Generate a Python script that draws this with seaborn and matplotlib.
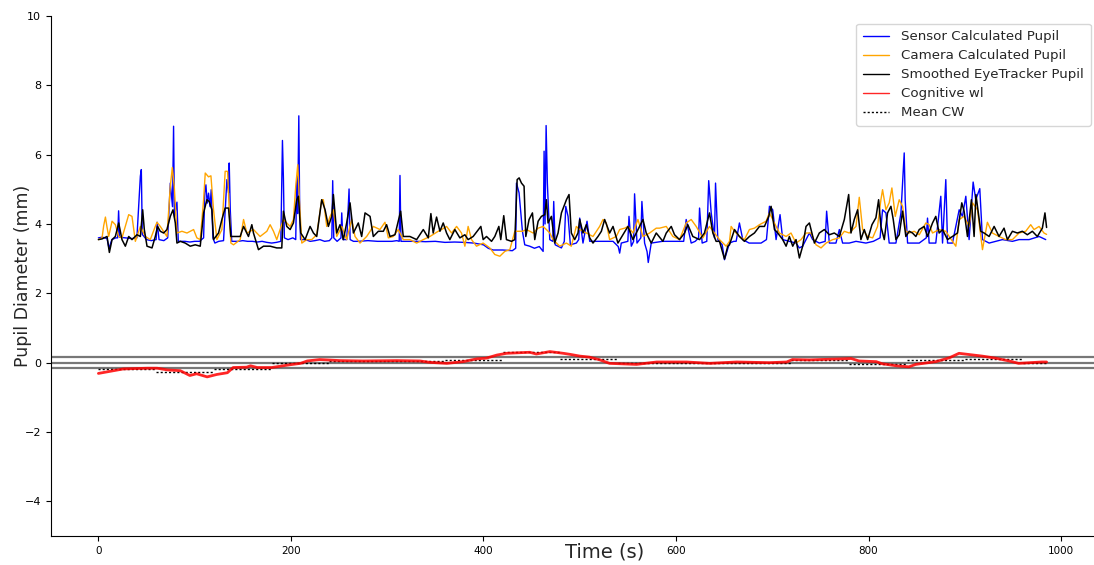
import numpy as np
import matplotlib
matplotlib.use("Agg")
import matplotlib.pyplot as plt
import seaborn as sns

# Pupil diameter readings (time in s, diameter in mm)
sensor_pts = [
    (0, 3.6), (4, 3.62), (9, 3.58), (11, 3.3), (14, 3.55), (18, 3.6), (20, 3.6), (21, 4.38), (22, 3.62),
    (28, 3.6), (35, 3.58), (40, 3.6), (43.6, 5.38), (44.6, 5.57), (45.6, 3.7), (50, 3.55), (55, 3.52),
    (60, 3.55), (61, 4.05), (63, 3.55), (68, 3.52), (72, 3.6), (74.7, 5.18), (77, 4.5), (78.1, 6.82),
    (79, 4.2), (81.6, 4.63), (83, 3.5), (90, 3.5), (95, 3.48), (100, 3.5), (105, 3.5), (109.3, 3.6),
    (110.5, 4.9), (111.7, 5.13), (113, 4.6), (114.4, 4.89), (116, 4.5), (117.2, 4.99), (119, 3.6),
    (121, 3.45), (125, 3.5), (130, 3.52), (133.5, 5.28), (135.2, 4.9), (135.9, 5.76), (137, 4.41),
    (138.5, 3.5), (145, 3.5), (150, 3.52), (155, 3.5), (160, 3.5), (165, 3.48), (170, 3.5), (175, 3.47),
    (180, 3.45), (185, 3.47), (189.5, 3.5), (191.2, 6.41), (192.2, 5.32), (193.2, 3.6), (197, 3.55),
    (202, 3.6), (205, 3.55), (206.1, 5.38), (207, 4.3), (208.2, 7.12), (209, 4.7), (210, 3.55),
    (215, 3.55), (220, 3.5), (225, 3.52), (230, 3.55), (235, 3.5), (240, 3.52), (242.5, 3.6),
    (243.4, 5.25), (244.5, 3.6), (248, 3.5), (252, 3.6), (252.8, 4.32), (254, 3.55), (258, 3.55),
    (260.4, 5.01), (261.5, 3.55), (265, 3.5), (270, 3.5), (280, 3.52), (290, 3.5), (300, 3.5),
    (305, 3.5), (310, 3.52), (312.5, 3.5), (313.3, 5.40), (314.3, 3.5), (320, 3.5), (330, 3.5),
    (340, 3.49), (350, 3.5), (360, 3.47), (370, 3.48), (380, 3.47), (390, 3.45), (400, 3.4),
    (405, 3.3), (410, 3.25), (420, 3.25), (430, 3.23), (433.5, 3.3), (434.3, 5.18), (437, 4.9),
    (440.5, 3.79), (442.9, 3.4), (448, 3.36), (453, 3.3), (458, 3.35), (462, 3.21), (463, 6.1),
    (464, 4.0), (465.1, 6.84), (466.4, 5.18), (468.9, 3.55), (472, 3.5), (473, 4.65), (474.5, 3.4),
    (481, 3.31), (484, 3.5), (485.5, 4.51), (487.9, 4.22), (490.3, 3.4), (496.5, 3.45), (499, 3.55),
    (500, 4.17), (503.4, 3.45), (507.6, 4.08), (510.4, 3.5), (517, 3.5), (525, 3.5), (534.6, 3.5),
    (540, 3.35), (541.5, 3.16), (543.2, 3.45), (550, 3.5), (551.2, 4.22), (553.6, 3.36), (556, 3.5),
    (557, 4.87), (559.5, 3.45), (563.5, 3.6), (564.6, 4.65), (567.4, 3.45), (570, 3.2), (571.2, 2.89),
    (574.3, 3.45), (586, 3.5), (600, 3.5), (608, 3.5), (610.6, 4.13), (615.8, 3.45), (620, 3.5),
    (623.5, 3.6), (624.5, 4.46), (627.2, 3.45), (632, 3.5), (634, 5.25), (636.6, 4.32), (640, 3.6),
    (641.1, 5.18), (643.5, 3.55), (648, 3.4), (650.4, 2.97), (655.6, 3.45), (660, 3.5), (662.5, 3.5),
    (665.9, 4.03), (669.4, 3.55), (676, 3.45), (683, 3.45), (688.4, 3.45), (694, 3.55), (697.1, 4.51),
    (700.5, 4.41), (704, 3.55), (708.1, 4.27), (710.9, 3.55), (717.8, 3.5), (724.7, 3.45), (728.2, 3.31),
    (731.6, 3.36), (735.1, 3.55), (738.6, 3.74), (742, 3.55), (748.9, 3.45), (755, 3.5), (756.5, 4.37),
    (759.3, 3.45), (766.2, 3.45), (769.7, 3.84), (773.1, 3.45), (780, 3.45), (787, 3.5), (797.3, 3.45),
    (805, 3.5), (812, 3.6), (814.6, 4.41), (818.1, 4.32), (821.5, 3.45), (828.5, 3.45), (833.7, 4.32),
    (837.1, 6.05), (838.1, 4.7), (840.6, 3.45), (852.7, 3.45), (860, 3.6), (861.3, 4.17), (863, 3.45),
    (869.9, 3.45), (875.1, 4.8), (876.9, 3.45), (880.3, 5.28), (882.1, 3.45), (887.2, 3.45),
    (894.2, 4.41), (897.6, 4.22), (901.1, 4.8), (904.5, 3.55), (908.7, 5.21), (911.4, 4.7),
    (915.6, 5.02), (918.4, 3.55), (925.3, 3.45), (932.2, 3.5), (939.1, 3.55), (949.5, 3.5),
    (956.4, 3.55), (966.8, 3.55), (977.2, 3.64), (984.1, 3.55),
]

camera_pts = [
    (0, 3.55), (3.8, 3.6), (5.5, 3.95), (7.3, 4.2), (9, 3.9), (10.7, 3.64), (14.2, 4.08), (17.6, 3.98),
    (21.1, 3.64), (24.5, 3.6), (28, 3.93), (31.5, 4.27), (34.9, 4.22), (38.4, 3.5), (43.6, 3.93),
    (48.8, 3.64), (53.9, 3.55), (59.1, 3.93), (60.9, 4.05), (64.3, 3.93), (71.2, 3.64), (74.7, 5.09),
    (76.8, 5.63), (78.8, 5.09), (81.6, 3.74), (86.8, 3.79), (92, 3.74), (98.9, 3.84), (102.3, 3.6),
    (105.8, 3.55), (109.3, 4.7), (111, 5.47), (114.4, 5.36), (116.9, 5.39), (119.6, 4.41), (123.1, 3.55),
    (128.3, 3.84), (131.7, 5.52), (134.2, 5.52), (135.9, 4.41), (137.6, 3.45), (140.4, 3.40),
    (147.3, 3.55), (150.8, 4.13), (154.2, 3.74), (161.1, 3.84), (168, 3.64), (175, 3.79), (178.4, 3.98),
    (181.9, 3.79), (185.3, 3.55), (192.2, 4.13), (195.7, 4.03), (199.2, 3.93), (202.6, 4.13), (205, 5.09),
    (207.1, 5.71), (208.8, 4.70), (211.3, 3.45), (216.5, 3.55), (221.6, 3.55), (226.8, 3.69), (232, 4.70),
    (233.7, 4.70), (237.2, 3.93), (240.7, 4.22), (244.1, 4.41), (247.6, 3.64), (252.8, 3.93),
    (257.9, 3.55), (263.1, 4.13), (266.6, 3.64), (271.8, 3.45), (278.7, 3.64), (285.6, 3.93),
    (292.5, 3.84), (297.7, 4.05), (301.2, 3.6), (306.3, 3.64), (311.5, 3.84), (316.7, 3.55),
    (323.6, 3.55), (330.6, 3.45), (337.5, 3.55), (344.4, 3.64), (353, 3.79), (356.5, 3.84),
    (361.7, 3.93), (366.9, 3.74), (372.1, 3.93), (377.2, 3.74), (380.7, 3.36), (384.1, 3.93),
    (387.6, 3.55), (392.8, 3.36), (399.7, 3.45), (406.6, 3.31), (411.8, 3.12), (417, 3.07),
    (422.2, 3.21), (427.4, 3.26), (432.6, 3.79), (436, 3.79), (440.5, 3.79), (444.7, 3.84),
    (451.6, 3.74), (456.8, 3.88), (461.9, 3.93), (465.4, 3.84), (468.9, 3.74), (472.3, 3.55),
    (479.2, 3.36), (486.2, 3.45), (491.3, 3.36), (496.5, 3.93), (500, 3.84), (506.9, 3.74),
    (513.8, 3.64), (520.7, 3.93), (524.2, 4.13), (527.6, 4.03), (531.1, 3.55), (538, 3.64),
    (541.5, 3.84), (546.7, 3.88), (550.1, 3.93), (555.3, 3.74), (560.5, 4.13), (565.7, 3.64),
    (572.6, 3.74), (579.5, 3.88), (583, 3.88), (589.9, 3.93), (596.8, 3.64), (603.7, 3.55),
    (610.6, 4.03), (615.8, 4.13), (621, 3.93), (627.9, 3.60), (634.8, 3.93), (640, 3.74),
    (645.2, 3.55), (652.1, 3.36), (655.6, 3.5), (657.3, 3.93), (660.8, 3.79), (665.9, 3.64),
    (671.1, 3.55), (676.3, 3.84), (681.5, 3.88), (686.7, 3.98), (693.6, 4.08), (697.1, 4.32),
    (700.5, 4.13), (704, 3.93), (707.4, 3.74), (714.4, 3.64), (719.5, 3.74), (724.7, 3.45),
    (729.9, 3.55), (735.1, 3.74), (740.3, 3.74), (745.5, 3.40), (750.7, 3.31), (755.9, 3.45),
    (762.8, 3.55), (769.7, 3.60), (774.9, 3.79), (780, 3.74), (787, 3.93), (790.4, 4.77), (793.9, 3.84),
    (799.1, 3.64), (804.3, 3.60), (809.4, 3.93), (812.9, 4.70), (814.6, 4.99), (818.1, 4.41),
    (821.5, 4.61), (824.3, 5.04), (827.8, 4.22), (831.9, 4.70), (835.4, 4.51), (838.8, 3.79),
    (842.3, 3.74), (847.5, 3.79), (852.7, 3.69), (859.6, 4.03), (863, 3.98), (866.5, 3.74),
    (873.4, 3.84), (880.3, 3.79), (887.2, 3.50), (890.7, 3.36), (894.2, 4.13), (899.3, 4.22),
    (904.5, 3.93), (908, 4.61), (913.2, 4.41), (918.4, 3.26), (923.5, 4.05), (928.7, 3.74),
    (935.6, 3.64), (942.6, 3.55), (949.5, 3.55), (956.4, 3.74), (963.3, 3.79), (968.5, 3.98),
    (972, 3.84), (977.2, 3.93), (982.3, 3.74), (985, 3.7),
]

smoothed_pts = [
    (0, 3.55), (3.8, 3.57), (9, 3.64), (11.4, 3.18), (14.2, 3.55), (17.6, 3.64), (21.1, 4.03),
    (24.5, 3.55), (28, 3.36), (31.5, 3.64), (34.9, 3.55), (40.1, 3.69), (43.6, 3.64), (46, 4.41),
    (47.7, 3.84), (50.5, 3.36), (55.7, 3.31), (59.1, 3.64), (61.5, 3.93), (64.3, 3.79), (67.8, 3.74),
    (71.2, 3.84), (74.7, 4.22), (77.5, 4.41), (79.9, 4.03), (81.6, 3.45), (85.1, 3.50), (90.2, 3.45),
    (95.4, 3.36), (100.6, 3.40), (105.8, 3.36), (109.3, 4.32), (112.7, 4.70), (115.1, 4.65),
    (117.9, 4.41), (119.6, 3.55), (124.8, 3.74), (128.3, 4.13), (131.7, 4.46), (135.2, 4.46),
    (137.6, 3.64), (142.1, 3.64), (147.3, 3.64), (150.8, 3.93), (155.9, 3.64), (159.4, 3.98),
    (161.1, 3.74), (166.3, 3.26), (171.5, 3.36), (178.4, 3.36), (185.3, 3.31), (190.5, 3.31),
    (192.2, 4.37), (195.7, 3.93), (199.2, 3.84), (202.6, 4.03), (206.1, 4.70), (207.8, 4.80),
    (210.2, 3.74), (214.7, 3.55), (219.9, 3.93), (223.4, 3.74), (226.8, 3.64), (232, 4.70),
    (235.5, 4.41), (238.9, 3.93), (242.4, 4.22), (244.1, 4.85), (247.6, 3.74), (251, 3.98),
    (254.5, 3.55), (257.9, 4.03), (261.4, 4.61), (264.9, 3.74), (270, 4.03), (273.5, 3.64),
    (277, 4.32), (282.2, 4.22), (285.6, 3.64), (290.8, 3.79), (296, 3.79), (299.4, 3.98),
    (302.9, 3.64), (308.1, 3.69), (314, 4.37), (316.7, 3.64), (323.6, 3.64), (330.6, 3.55),
    (337.5, 3.84), (342.7, 3.60), (345.4, 4.30), (347.8, 3.74), (351.3, 4.20), (354.8, 3.79),
    (358.2, 4.03), (361.7, 3.74), (365.1, 3.55), (370.3, 3.84), (375.5, 3.60), (380.7, 3.69),
    (384.1, 3.55), (389.3, 3.64), (393.5, 3.79), (397.3, 3.93), (399.7, 3.55), (403.2, 3.64),
    (408.4, 3.50), (411.8, 3.64), (416, 3.93), (418, 3.55), (421.1, 4.24), (423.9, 3.55),
    (429.1, 3.50), (432.6, 3.55), (435, 5.28), (437.1, 5.33), (439.5, 5.18), (442.2, 5.09),
    (444, 3.64), (447.4, 4.13), (450.9, 4.32), (453.3, 3.55), (456.8, 4.08), (460.2, 4.22),
    (463.7, 4.27), (465.4, 4.70), (467.1, 4.03), (470.6, 4.22), (474, 3.45), (477.5, 3.74),
    (481, 4.32), (486.2, 4.70), (488.9, 4.85), (491.3, 3.74), (494.8, 3.55), (498.2, 3.74),
    (500, 4.13), (503.4, 3.74), (506.9, 3.98), (510.4, 3.60), (513.8, 3.45), (519, 3.64),
    (522.5, 3.79), (525.9, 4.13), (531.1, 3.74), (534.6, 3.93), (539.7, 3.45), (544.9, 3.69),
    (550.1, 3.93), (555.3, 3.55), (562.2, 3.93), (565.7, 4.13), (569.1, 3.74), (574.3, 3.45),
    (579.5, 3.74), (586.4, 3.50), (589.9, 3.74), (595.1, 3.93), (598.5, 3.69), (603.7, 3.55),
    (608.9, 3.74), (612.3, 3.98), (617.5, 3.64), (624.5, 3.55), (629.6, 3.74), (634.8, 4.32),
    (638.3, 3.74), (641.7, 3.50), (645.2, 3.50), (650.4, 2.99), (653.8, 3.36), (655.6, 3.40),
    (660.8, 3.84), (665.9, 3.64), (671.1, 3.50), (676.3, 3.64), (681.5, 3.74), (686.7, 3.93),
    (691.9, 3.93), (696.4, 4.22), (698.8, 4.51), (702.3, 3.84), (705.7, 3.74), (710.9, 3.55),
    (714.4, 3.36), (717.8, 3.64), (721.3, 3.36), (724.7, 3.55), (728.2, 3.02), (731.6, 3.36),
    (735.1, 3.93), (738.6, 4.03), (743.8, 3.45), (748.9, 3.74), (754.1, 3.84), (759.3, 3.69),
    (764.5, 3.74), (769.7, 3.64), (774.9, 4.13), (779.4, 4.85), (781.8, 3.74), (785.2, 4.13),
    (788.7, 4.41), (792.1, 3.55), (795.6, 3.84), (799.1, 3.55), (803.6, 3.98), (807.7, 4.18),
    (810.5, 4.70), (812.9, 3.93), (816.4, 3.55), (819.8, 4.32), (823.3, 4.51), (825.7, 4.13),
    (828.5, 3.55), (831.9, 3.69), (835.4, 4.37), (838.8, 3.64), (842.3, 3.79), (845.7, 3.74),
    (849.2, 3.64), (852.7, 3.84), (857.8, 3.93), (861.3, 3.64), (866.5, 4.03), (869.9, 4.22),
    (873.4, 3.74), (876.9, 3.84), (882.1, 3.55), (887.2, 3.64), (892.4, 3.74), (896.9, 4.61),
    (899.3, 4.37), (902.8, 3.64), (906.9, 4.70), (909.7, 3.64), (911.6, 4.85), (916.6, 3.79),
    (920.1, 3.74), (925.3, 3.64), (930.5, 3.93), (935.6, 3.64), (940.8, 3.88), (944.3, 3.55),
    (949.5, 3.79), (954.6, 3.74), (959.8, 3.79), (965, 3.69), (970.2, 3.79), (975.4, 3.64),
    (980.6, 3.88), (983.3, 4.32), (985, 3.9),
]

# Cognitive workload index
cw_t = [0, 26, 51, 61, 72, 85, 95, 102, 113, 123, 134, 140, 154, 158, 165, 180, 199, 210, 217, 230,
        251, 275, 310, 334, 344, 362, 379, 393, 403, 414, 424, 448, 455, 469, 483, 490, 500, 510, 521,
        531, 559, 580, 611, 635, 663, 697, 715, 721, 739, 749, 773, 782, 790, 808, 814, 829, 842, 849,
        870, 884, 894, 918, 932, 946, 956, 980, 985]
cw_val = [-0.31, -0.18, -0.16, -0.16, -0.21, -0.23, -0.37, -0.32, -0.41, -0.34, -0.29, -0.14, -0.13,
          -0.09, -0.14, -0.14, -0.06, -0.02, 0.05, 0.09, 0.06, 0.05, 0.06, 0.05, 0.01, -0.02, 0.03,
          0.11, 0.13, 0.22, 0.27, 0.30, 0.25, 0.32, 0.27, 0.24, 0.19, 0.16, 0.08, -0.02, -0.05, 0.02,
          0.02, -0.02, 0.02, 0.0, 0.02, 0.09, 0.08, 0.09, 0.11, 0.12, 0.05, 0.03, -0.03, -0.09, -0.12,
          -0.05, 0.03, 0.14, 0.27, 0.19, 0.13, 0.05, -0.02, 0.02, 0.02]

# Mean workload per 60 s window
window_edges = [0, 60, 120, 180, 240, 300, 360, 420, 480, 540, 600, 660, 720, 780, 840, 900, 960, 985]
window_mean = [-0.18, -0.28, -0.18, 0.0, 0.05, 0.04, 0.09, 0.30, 0.10, -0.01, 0.0, 0.0, 0.09,
               -0.03, 0.07, 0.10, 0.0]

# Reference band around zero
band_levels = [-0.15, 0.0, 0.15]

sensor_t, sensor_mm = map(list, zip(*sensor_pts))
camera_t, camera_mm = map(list, zip(*camera_pts))
smooth_t, smooth_mm = map(list, zip(*smoothed_pts))

sns.set_style("ticks")
plt.rcParams["font.family"] = ["DejaVu Sans"]

fig = plt.figure(figsize=(10.94, 5.65), dpi=100)
ax = fig.add_axes([0.0466, 0.0513, 0.9534, 0.9204])

for lvl in band_levels:
    ax.axhline(lvl, color="#777777", lw=1.6, zorder=1)

sns.lineplot(x=sensor_t, y=sensor_mm, color="blue", lw=1.0, estimator=None,
             label="Sensor Calculated Pupil", ax=ax, zorder=2)
sns.lineplot(x=camera_t, y=camera_mm, color="orange", lw=1.0, estimator=None,
             label="Camera Calculated Pupil", ax=ax, zorder=3)
sns.lineplot(x=smooth_t, y=smooth_mm, color="black", lw=1.1, estimator=None,
             label="Smoothed EyeTracker Pupil", ax=ax, zorder=4)

starts = window_edges[:-1]
ends = window_edges[1:]
mean_lines = ax.hlines(window_mean, starts, ends, colors="black", linestyles=(0, (1.5, 1.5)),
                       lw=1.0, zorder=5)

sns.lineplot(x=cw_t, y=cw_val, color="red", lw=2.0, alpha=0.85, estimator=None,
             label="Cognitive wl", ax=ax, zorder=6)

ax.set_ylim(-5, 10)
ax.set_yticks([-4, -2, 0, 2, 4, 6, 8, 10])
ax.set_xticks([0, 200, 400, 600, 800, 1000])
sns.despine(ax=ax)
ax.spines["left"].set_color("black")
ax.spines["bottom"].set_color("black")
ax.tick_params(axis="both", labelsize=8, length=3.5, color="black", labelcolor="black")
ax.tick_params(axis="x", labelsize=7.5)

ax.set_ylabel("Pupil Diameter (mm)", fontsize=12.5)
ax.yaxis.set_label_coords(-0.018, 0.5)
ax.set_xlabel("Time (s)", fontsize=14)
ax.xaxis.set_label_coords(0.531, -0.012)

handles, labels = ax.get_legend_handles_labels()
handles = handles + [mean_lines]
labels = labels + ["Mean CW"]
leg = ax.legend(handles, labels, loc="upper right", bbox_to_anchor=(0.997, 0.985),
                fontsize=9.6, frameon=True, handlelength=2.0, handletextpad=0.9,
                borderpad=0.5, labelspacing=0.45, borderaxespad=0.0)
for h in leg.legend_handles:
    h.set_linewidth(1.0)
leg.get_frame().set_edgecolor("#cccccc")

fig.savefig("out.png", dpi=100)
